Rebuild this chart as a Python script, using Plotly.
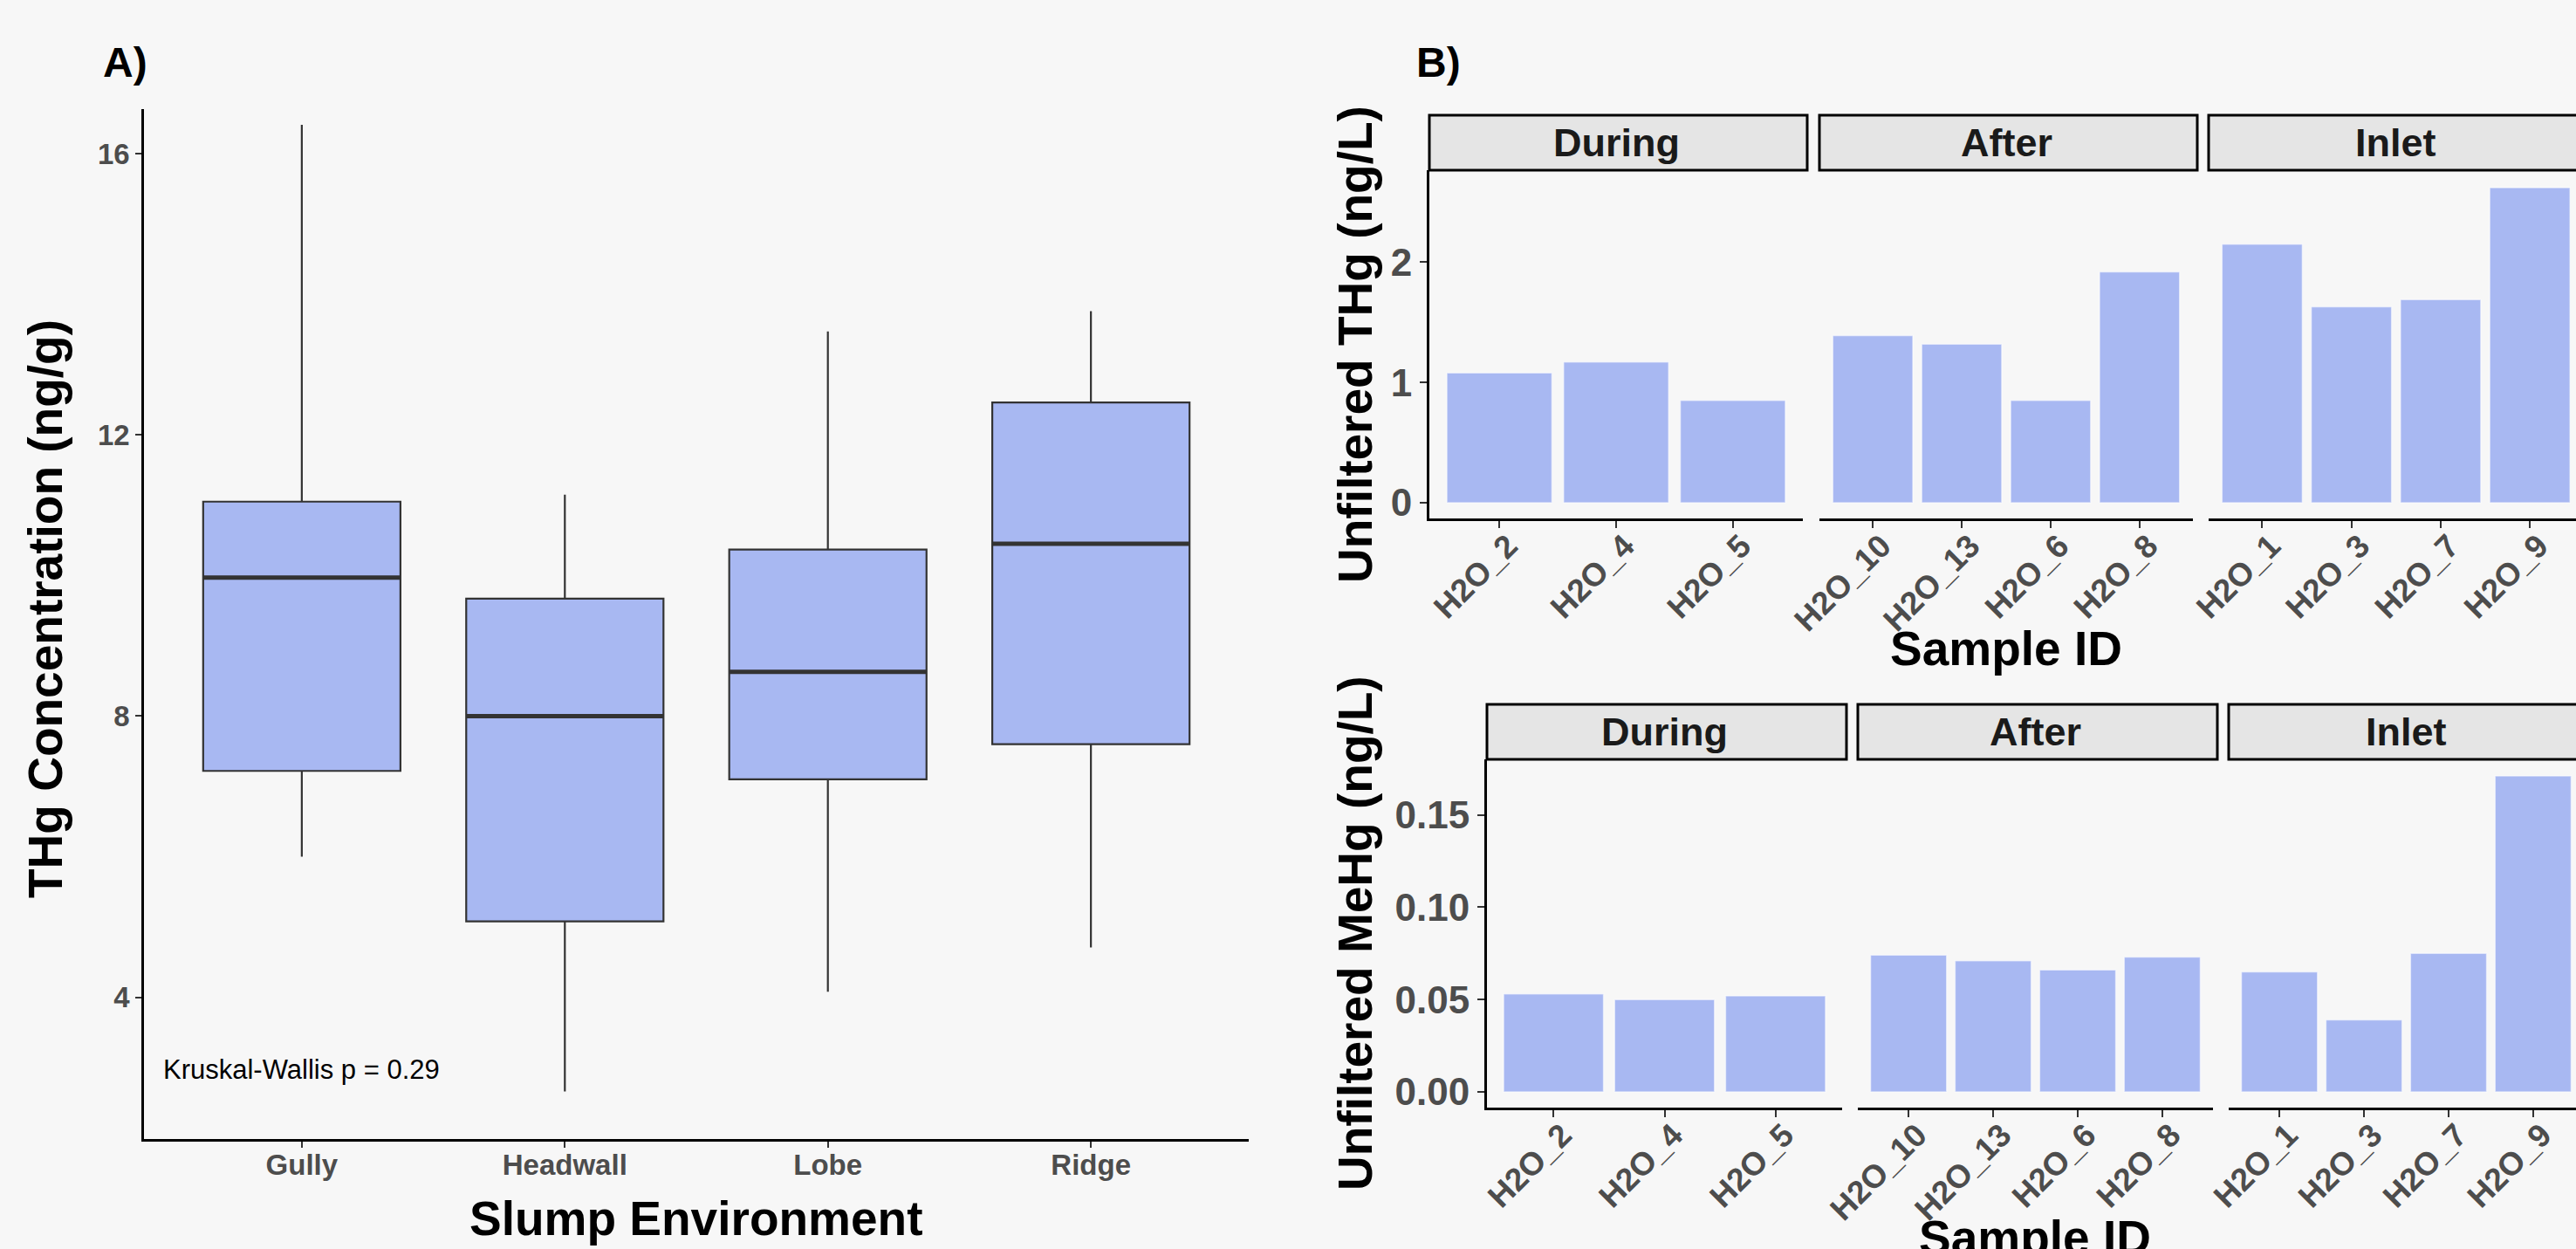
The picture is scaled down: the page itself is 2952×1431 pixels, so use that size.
import plotly.graph_objects as go

# ---------------- data ----------------
environments = ["Gully", "Headwall", "Lobe", "Ridge"]
thg_q1 = [7.22, 5.08, 7.10, 7.60]
thg_median = [9.97, 8.00, 8.63, 10.45]
thg_q3 = [11.05, 9.67, 10.37, 12.46]
thg_lower = [6.00, 2.66, 4.08, 4.71]
thg_upper = [16.41, 11.15, 13.47, 13.76]

phases = ["During", "After", "Inlet"]
during_ids = ["H2O_2", "H2O_4", "H2O_5"]
after_ids = ["H2O_10", "H2O_13", "H2O_6", "H2O_8"]
inlet_ids = ["H2O_1", "H2O_3", "H2O_7", "H2O_9"]

thg_during = [1.08, 1.17, 0.85]
thg_after = [1.39, 1.32, 0.85, 1.92]
thg_inlet = [2.15, 1.63, 1.69, 2.62]

mehg_during = [0.053, 0.050, 0.052]
mehg_after = [0.074, 0.071, 0.066, 0.073]
mehg_inlet = [0.065, 0.039, 0.075, 0.171]

kw_label = "Kruskal-Wallis p = 0.29"

# ---------------- style ----------------
W, H = 2952, 1431
BG = "#F7F7F7"
FILL = "#A8B8F2"
FONT = "Liberation Sans"
TICK_GRAY = "#4D4D4D"


def px(x):
    return x / W


def py(y):
    return 1 - y / H


fig = go.Figure()

# Panel A: boxplot
fig.add_trace(go.Box(
    x=environments, q1=thg_q1, median=thg_median, q3=thg_q3,
    lowerfence=thg_lower, upperfence=thg_upper,
    fillcolor=FILL, line=dict(color="#333333", width=2.2), whiskerwidth=0,
    width=0.75, boxpoints=False, showlegend=False, hoverinfo="skip",
    xaxis="x", yaxis="y",
))
shapes = []
for i, m in enumerate(thg_median):
    shapes.append(dict(type="line", xref="x", yref="y", x0=i - 0.375, x1=i + 0.375,
                       y0=m, y1=m, line=dict(color="#333333", width=5)))

# Panel B bars
groups = [(during_ids, thg_during, mehg_during),
          (after_ids, thg_after, mehg_after),
          (inlet_ids, thg_inlet, mehg_inlet)]

bar_line = dict(color="rgba(255,255,255,0.55)", width=1.5)
for k, (ids, thg, mehg) in enumerate(groups):
    fig.add_trace(go.Bar(x=ids, y=thg, marker=dict(color=FILL, line=bar_line), width=0.9,
                         showlegend=False, hoverinfo="skip",
                         xaxis="x%d" % (2 + k), yaxis="y2"))
    fig.add_trace(go.Bar(x=ids, y=mehg, marker=dict(color=FILL, line=bar_line), width=0.9,
                         showlegend=False, hoverinfo="skip",
                         xaxis="x%d" % (5 + k), yaxis="y3"))

# ---------------- layout geometry (pixels) ----------------
top_x = [(1638, 2066), (2085, 2513), (2531, 2960.5)]
bot_x = [(1704, 2111), (2129, 2536), (2554, 2961)]
top_y = (195, 594)
bot_y = (870, 1269)
top_strip = (132, 195)
bot_strip = (807, 870)

axis_common = dict(showgrid=False, zeroline=False, showline=True, linecolor="black",
                   ticks="outside", tickcolor="#333333", fixedrange=True,
                   automargin=False)

layout = dict(
    width=W, height=H, autosize=False,
    margin=dict(l=0, r=0, t=0, b=0, pad=0),
    paper_bgcolor=BG, plot_bgcolor=BG,
    font=dict(family=FONT),
    xaxis=dict(axis_common, domain=[px(165), px(1431)], anchor="y", type="category",
               range=[-0.6, 3.6], linewidth=2.5, ticklen=7, tickwidth=2,
               ticklabelstandoff=-8,
               tickfont=dict(size=33, color=TICK_GRAY, weight="bold")),
    yaxis=dict(axis_common, domain=[py(1305), py(125)], anchor="x",
               range=[1.984, 16.634], tickvals=[4, 8, 12, 16], linewidth=2.5,
               ticklen=7, tickwidth=2,
               tickfont=dict(size=33, color=TICK_GRAY, weight="bold")),
    yaxis2=dict(axis_common, domain=[py(top_y[1]), py(top_y[0])], anchor="x2",
                range=[-0.1314, 2.766], tickvals=[0, 1, 2], linewidth=3, ticklen=8, tickwidth=2,
                tickfont=dict(size=44, color=TICK_GRAY, weight="bold")),
    yaxis3=dict(axis_common, domain=[py(bot_y[1]), py(bot_y[0])], anchor="x5",
                range=[-0.0085, 0.18], tickvals=[0, 0.05, 0.10, 0.15], tickformat=".2f",
                linewidth=3, ticklen=8, tickwidth=2,
                tickfont=dict(size=44, color=TICK_GRAY, weight="bold")),
    shapes=shapes,
)

ncats = [len(during_ids), len(after_ids), len(inlet_ids)]
for k in range(3):
    for row, (xs, yname) in enumerate([(top_x, "y2"), (bot_x, "y3")]):
        ax_idx = 2 + k + 3 * row
        x0, x1 = xs[k]
        right_edge = min(x1, W)
        n = ncats[k]
        full_range = n - 1 + 1.2
        ppu = (x1 - x0) / full_range
        hi = (n - 1 + 0.6) - (x1 - right_edge) / ppu
        layout["xaxis%d" % ax_idx] = dict(
            axis_common, domain=[px(x0), px(right_edge)], anchor=yname, type="category",
            range=[-0.6, hi], linewidth=3, ticklen=8, tickwidth=2, tickangle=-45,
            ticklabelstandoff=-16, ticklabelshift=10,
            tickfont=dict(size=37, color=TICK_GRAY, weight="bold"))

fig.update_layout(**layout)

# strips
for xs, (s0, s1) in [(top_x, top_strip), (bot_x, bot_strip)]:
    for k, (x0, x1) in enumerate(xs):
        fig.add_shape(type="rect", xref="paper", yref="paper",
                      x0=px(x0), x1=px(x1 + 5), y0=py(s1), y1=py(s0),
                      fillcolor="#E5E5E5", line=dict(color="black", width=3), layer="above")
        fig.add_annotation(text=phases[k], xref="paper", yref="paper",
                           x=px((x0 + x1) / 2), y=py((s0 + s1) / 2), showarrow=False,
                           xanchor="center", yanchor="middle",
                           font=dict(size=45, color="#1A1A1A", family=FONT, weight="bold"))

title_font = dict(size=55, color="black", family=FONT, weight="bold")
annots = [
    dict(text="A)", x=px(116), y=py(72), xanchor="left", yanchor="middle",
         font=dict(size=48, color="black", family=FONT, weight="bold")),
    dict(text="B)", x=px(1621), y=py(72), xanchor="left", yanchor="middle",
         font=dict(size=48, color="black", family=FONT, weight="bold")),
    dict(text="THg Concentration (ng/g)", x=px(52), y=py(698), textangle=-90,
         xanchor="center", yanchor="middle", font=title_font),
    dict(text="Slump Environment", x=px(798), y=py(1396), xanchor="center",
         yanchor="middle", font=title_font),
    dict(text="Unfiltered THg (ng/L)", x=px(1553), y=py(395), textangle=-90,
         xanchor="center", yanchor="middle", font=title_font),
    dict(text="Unfiltered MeHg (ng/L)", x=px(1553), y=py(1069), textangle=-90,
         xanchor="center", yanchor="middle", font=title_font),
    dict(text="Sample ID", x=px(2299), y=py(743), xanchor="center", yanchor="middle",
         font=title_font),
    dict(text="Sample ID", x=px(2332), y=py(1418), xanchor="center", yanchor="middle",
         font=title_font),
    dict(text=kw_label, x=px(185), y=py(1225), xanchor="left", yanchor="middle",
         font=dict(size=31, color="black", family=FONT)),
]
for a in annots:
    fig.add_annotation(xref="paper", yref="paper", showarrow=False, **a)

fig.write_html("out.html", config={"displayModeBar": False},
               post_script="document.body.style.margin='0';document.body.style.overflow='hidden';")
